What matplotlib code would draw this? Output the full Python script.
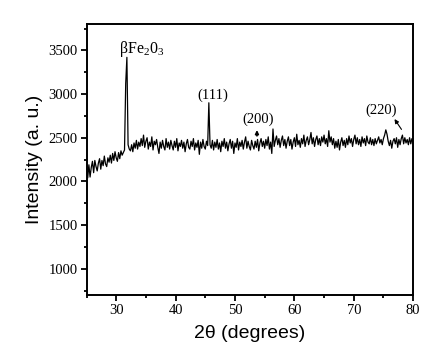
import numpy as np
import matplotlib
matplotlib.use("Agg")
from matplotlib import pyplot as plt
from matplotlib.ticker import MultipleLocator

# XRD pattern, 0.2 degree steps from 25 to 80
two_theta_start = 25.0
two_theta_step = 0.2
intensity = [
    2130, 2040, 2190, 2050, 2160, 2230, 2100, 2240, 2170, 2120,
    2210, 2260, 2140, 2240, 2180, 2290, 2200, 2170, 2270, 2220,
    2300, 2210, 2320, 2240, 2340, 2270, 2230, 2330, 2260, 2350,
    2300, 2330, 2360, 3120, 3420, 2420, 2370, 2350, 2420, 2340,
    2440, 2380, 2470, 2370, 2450, 2400, 2490, 2410, 2530, 2390,
    2460, 2500, 2370, 2450, 2400, 2510, 2360, 2460, 2420, 2480,
    2390, 2320, 2450, 2380, 2470, 2400, 2360, 2490, 2390, 2450,
    2370, 2470, 2410, 2360, 2460, 2390, 2490, 2350, 2440, 2400,
    2470, 2380, 2450, 2340, 2430, 2480, 2390, 2370, 2460, 2400,
    2490, 2360, 2440, 2390, 2470, 2310, 2450, 2380, 2480, 2400,
    2370, 2460, 2410, 2900, 2420, 2380, 2470, 2360, 2450, 2390,
    2480, 2370, 2440, 2340, 2460, 2400, 2490, 2380, 2450, 2350,
    2430, 2480, 2380, 2460, 2320, 2440, 2390, 2490, 2360, 2450,
    2400, 2470, 2370, 2450, 2510, 2380, 2460, 2400, 2360, 2470,
    2410, 2370, 2460, 2390, 2480, 2350, 2440, 2490, 2400, 2460,
    2380, 2480, 2410, 2510, 2370, 2450, 2320, 2600, 2400, 2470,
    2520, 2420, 2490, 2390, 2470, 2520, 2410, 2480, 2380, 2460,
    2510, 2410, 2480, 2370, 2450, 2500, 2400, 2540, 2420, 2470,
    2390, 2490, 2430, 2530, 2400, 2470, 2510, 2420, 2480, 2560,
    2430, 2500, 2400, 2480, 2520, 2420, 2490, 2410, 2510, 2450,
    2530, 2430, 2490, 2400, 2580, 2450, 2510, 2420, 2490, 2380,
    2460, 2390, 2480, 2360, 2450, 2500, 2410, 2470, 2390, 2490,
    2420, 2520, 2440, 2490, 2400, 2480, 2530, 2430, 2500, 2420,
    2480, 2400, 2510, 2440, 2490, 2410, 2520, 2450, 2430, 2500,
    2420, 2480, 2410, 2490, 2430, 2470, 2510, 2440, 2480, 2420,
    2490, 2530, 2590, 2540, 2460, 2410, 2470, 2380, 2460, 2490,
    2430, 2500, 2390, 2480, 2420, 2490, 2530, 2430, 2500, 2440,
    2480, 2420, 2500, 2430, 2490, 2440,
]
two_theta = two_theta_start + two_theta_step * np.arange(len(intensity))

# peak labels and where they sit
peak_labels = ["(111)", "(200)", "(220)"]
label_x = [46.3, 53.85, 74.6]
label_y = [2990, 2714, 2818]

plt.rcParams["mathtext.fontset"] = "custom"
plt.rcParams["mathtext.rm"] = "Liberation Serif"

fig = plt.figure(figsize=(4.22, 3.55), dpi=100)
ax = fig.add_axes([0.205, 0.169, 0.774, 0.763])

ax.plot(two_theta, intensity, color="black", lw=0.9)

ax.set_xlim(25, 80)
ax.set_ylim(700, 3800)
ax.xaxis.set_minor_locator(MultipleLocator(5))
ax.yaxis.set_minor_locator(MultipleLocator(250))
ax.set_yticks([1000, 1500, 2000, 2500, 3000, 3500])
ax.set_xticks([30, 40, 50, 60, 70, 80])

for s in ax.spines.values():
    s.set_linewidth(1.4)
ax.tick_params(which="major", direction="out", length=4.5, width=1.3, pad=2)
ax.tick_params(which="minor", direction="out", length=2.5, width=1.3)
for lab in ax.get_xticklabels() + ax.get_yticklabels():
    lab.set_fontfamily("Liberation Serif")
    lab.set_fontsize(10.5)

ax.set_xlabel("2θ (degrees)", family="Liberation Sans", fontsize=14, labelpad=6)
ax.set_ylabel("Intensity (a. u.)", family="Liberation Sans", fontsize=14, labelpad=4)

# annotations
ax.text(30.5, 3520, r"$\mathrm{\beta Fe_2 0_3}$", fontsize=11.5, ha="left", va="center")
for t, lx, ly in zip(peak_labels, label_x, label_y):
    ax.text(lx, ly, t, family="Liberation Serif", fontsize=10.5, ha="center", va="center")

ax.annotate("", xy=(53.7, 2620), xytext=(53.7, 2490),
            arrowprops=dict(arrowstyle="-|>", color="black", lw=1.2, mutation_scale=5))
ax.annotate("", xy=(76.6, 2740), xytext=(78.3, 2569),
            arrowprops=dict(arrowstyle="-|>", color="black", lw=0.8, mutation_scale=6))

fig.savefig("out.png", dpi=100)
